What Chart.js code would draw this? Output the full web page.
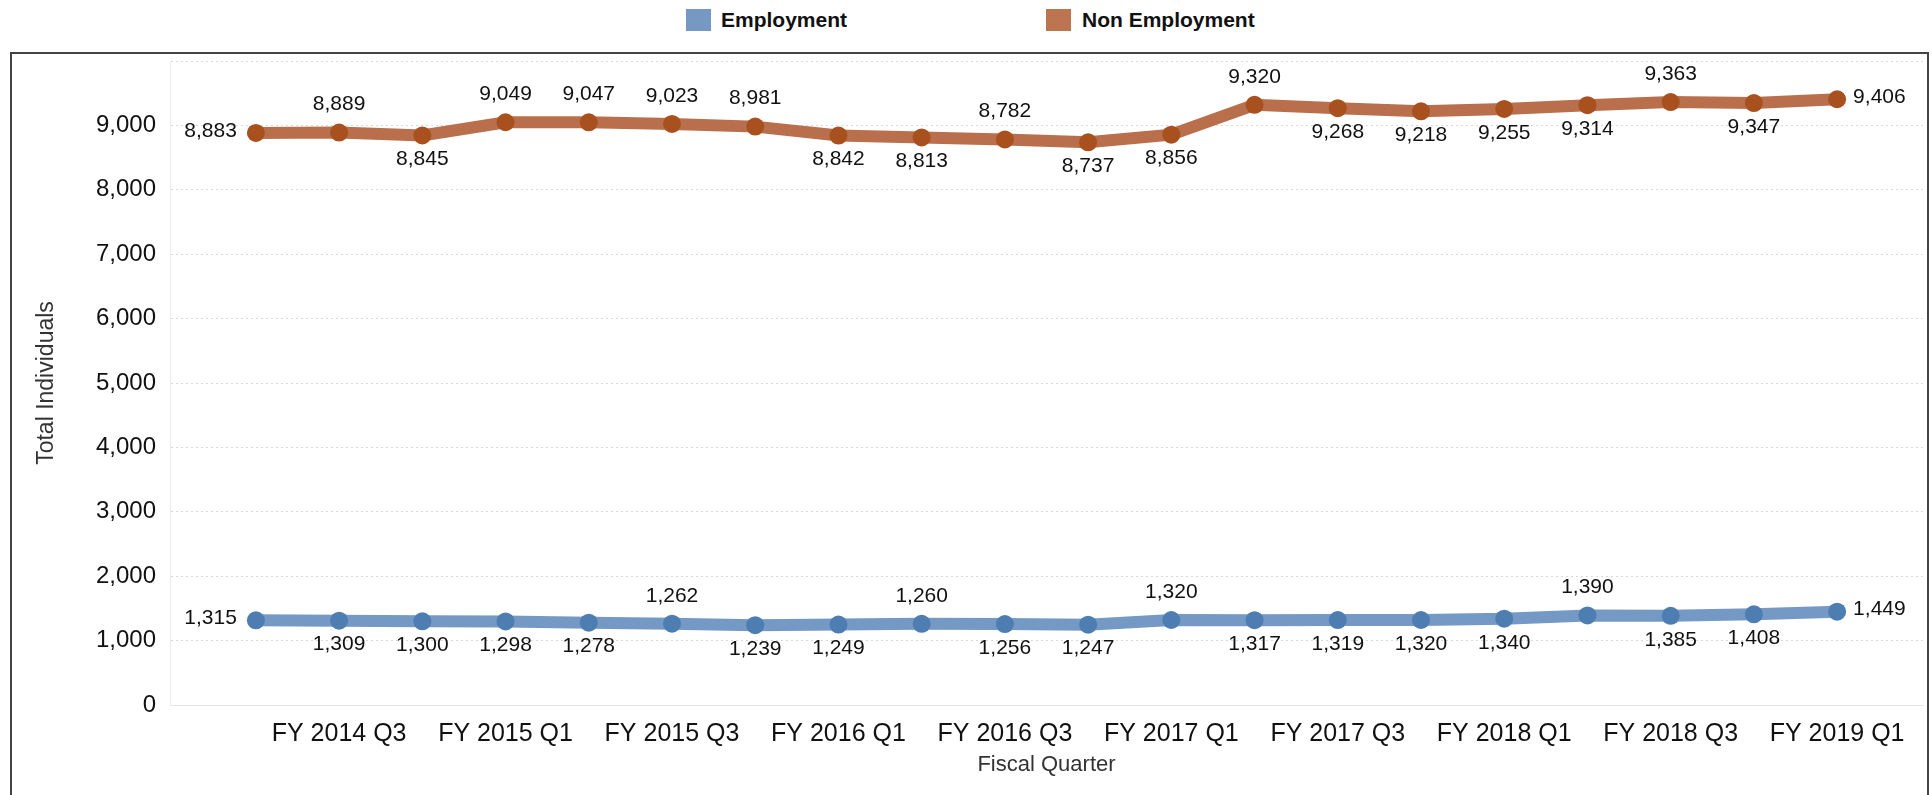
<!DOCTYPE html>
<html>
<head>
<meta charset="utf-8">
<script src="https://cdn.jsdelivr.net/npm/chart.js@4.4.1/dist/chart.umd.min.js"></script>
<style>
  html, body { margin: 0; padding: 0; background: #fff; overflow: hidden; }
  #wrap { position: relative; width: 1932px; height: 795px; font-family: "Liberation Sans", Arial, sans-serif; }
  #frame { position: absolute; left: 10px; top: 52px; width: 1915px; height: 760px; border: 2px solid #444; border-bottom: none; }
  #chart { position: absolute; left: 0; top: 0; }
  .key { position: absolute; top: 9px; width: 25px; height: 22px; }
  .keytext { position: absolute; top: 8px; font-weight: bold; font-size: 21px; color: #111; line-height: 24px; }
</style>
</head>
<body>
<div id="wrap">
  <div id="frame"></div>
  <div class="key" style="left:686px;background:#7599c3"></div>
  <div class="keytext" style="left:721px">Employment</div>
  <div class="key" style="left:1046px;background:#bd7551"></div>
  <div class="keytext" style="left:1082px">Non Employment</div>
  <canvas id="chart" width="1932" height="795"></canvas>
</div>
<script>
  // quarters, FY 2014 Q2 through FY 2019 Q1
  const quarters = [
    "FY 2014 Q2", "FY 2014 Q3", "FY 2014 Q4", "FY 2015 Q1", "FY 2015 Q2",
    "FY 2015 Q3", "FY 2015 Q4", "FY 2016 Q1", "FY 2016 Q2", "FY 2016 Q3",
    "FY 2016 Q4", "FY 2017 Q1", "FY 2017 Q2", "FY 2017 Q3", "FY 2017 Q4",
    "FY 2018 Q1", "FY 2018 Q2", "FY 2018 Q3", "FY 2018 Q4", "FY 2019 Q1"
  ];
  const employment = [1315, 1309, 1300, 1298, 1278, 1262, 1239, 1249, 1260, 1256,
    1247, 1320, 1317, 1319, 1320, 1340, 1390, 1385, 1408, 1449];
  const nonEmployment = [8883, 8889, 8845, 9049, 9047, 9023, 8981, 8842, 8813, 8782,
    8737, 8856, 9320, 9268, 9218, 9255, 9314, 9363, 9347, 9406];
  const yTicks = [0, 1000, 2000, 3000, 4000, 5000, 6000, 7000, 8000, 9000];

  // where each value label sits relative to its point (L, R, A = above, B = below)
  const employmentLabelPos = "LBBBBABBABBABBBBABBR".split("");
  const nonEmploymentLabelPos = "LABAAAABBABBABBBBABR".split("");

  const fmt = v => v.toLocaleString("en-US");
  const toPoints = arr => arr.map((v, i) => ({ x: i, y: v }));

  const valueLabels = {
    id: "valueLabels",
    afterDatasetsDraw(chart) {
      const ctx = chart.ctx;
      ctx.save();
      ctx.font = "21px 'Liberation Sans', Arial, sans-serif";
      ctx.fillStyle = "#111";
      chart.data.datasets.forEach((ds, di) => {
        const meta = chart.getDatasetMeta(di);
        meta.data.forEach((pt, i) => {
          const text = fmt(ds.data[i].y);
          const pos = ds.labelPos[i];
          ctx.textBaseline = "middle";
          if (pos === "L") { ctx.textAlign = "right"; ctx.fillText(text, pt.x - 19, pt.y - 2); }
          else if (pos === "R") { ctx.textAlign = "left"; ctx.fillText(text, pt.x + 16, pt.y - 2); }
          else if (pos === "A") { ctx.textAlign = "center"; ctx.fillText(text, pt.x, pt.y - 28); }
          else { ctx.textAlign = "center"; ctx.fillText(text, pt.x, pt.y + 24); }
        });
      });
      ctx.restore();
    }
  };

  new Chart(document.getElementById("chart"), {
    type: "line",
    data: {
      datasets: [
        {
          label: "Non Employment",
          data: toPoints(nonEmployment),
          labelPos: nonEmploymentLabelPos,
          borderColor: "#b96f4c",
          borderWidth: 12,
          pointRadius: 9,
          pointBorderWidth: 0,
          pointBackgroundColor: "#a9501f",
          tension: 0
        },
        {
          label: "Employment",
          data: toPoints(employment),
          labelPos: employmentLabelPos,
          borderColor: "#7399c4",
          borderWidth: 12,
          pointRadius: 9,
          pointBorderWidth: 0,
          pointBackgroundColor: "#4e7db1",
          tension: 0
        }
      ]
    },
    options: {
      responsive: false,
      animation: false,
      devicePixelRatio: 1,
      layout: { padding: { left: 12, top: 61, right: 7, bottom: 0 } },
      plugins: { legend: { display: false }, tooltip: { enabled: false } },
      scales: {
        x: {
          type: "linear",
          min: -1.032,
          max: 20.032,
          afterBuildTicks: scale => {
            scale.ticks = quarters.map((q, i) => ({ value: i })).filter(t => t.value % 2 === 1);
          },
          afterFit: scale => { scale.height = 90; },
          ticks: {
            autoSkip: false,
            maxRotation: 0,
            padding: 14,
            color: "#111",
            font: { family: "'Liberation Sans', Arial, sans-serif", size: 25 },
            callback: v => quarters[v]
          },
          grid: { display: false, drawTicks: false },
          border: { display: true, color: "#e4e4e4", width: 1 },
          title: {
            display: true,
            text: "Fiscal Quarter",
            color: "#333",
            font: { family: "'Liberation Sans', Arial, sans-serif", size: 22 },
            padding: { top: 0, bottom: 17 }
          }
        },
        y: {
          min: 0,
          max: 10000,
          afterBuildTicks: scale => {
            scale.ticks = yTicks.map(v => ({ value: v })).concat([{ value: 10000 }]);
          },
          afterFit: scale => { scale.width = 158; },
          ticks: {
            padding: 14,
            color: "#111",
            font: { family: "'Liberation Sans', Arial, sans-serif", size: 24 },
            callback: v => (v === 10000 ? "" : fmt(v))
          },
          grid: {
            drawTicks: false,
            color: ctx => (ctx.tick && ctx.tick.value === 0 ? "rgba(0,0,0,0)" : "#d9d9d9"),
            lineWidth: 1
          },
          border: { display: true, color: "#ececec", width: 1, dash: [2, 3] },
          title: {
            display: true,
            text: "Total Individuals",
            color: "#333",
            font: { family: "'Liberation Sans', Arial, sans-serif", size: 23 },
            padding: { top: 21, bottom: 0 }
          }
        }
      }
    },
    plugins: [valueLabels]
  });
</script>
</body>
</html>
